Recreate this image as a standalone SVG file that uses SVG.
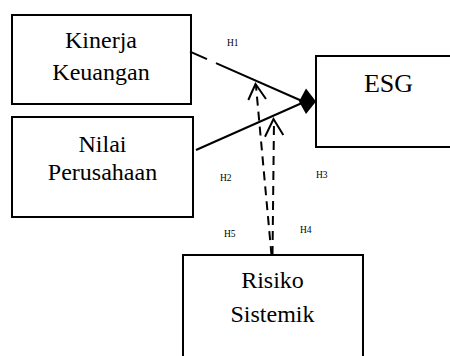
<svg xmlns="http://www.w3.org/2000/svg" width="450" height="356" viewBox="0 0 450 356">
  <style>
    .box { fill: #ffffff; stroke: #000000; stroke-width: 2; }
    text { font-family: 'Liberation Serif', 'Times New Roman', serif; fill: #000000; }
    .label { font-size: 24px; text-anchor: middle; }
    .big { font-size: 26px; }
    .hyp { font-size: 9.5px; }
    .line { stroke: #000000; stroke-width: 2; fill: none; }
    .dash { stroke: #000000; stroke-width: 2; fill: none; stroke-dasharray: 9 6; }
  </style>

  <rect width="450" height="356" fill="#ffffff"/>

  <g id="kinerja-keuangan">
    <rect class="box" x="12" y="15" width="179" height="89"/>
    <text class="label" x="101" y="48">Kinerja</text>
    <text class="label" x="101" y="80">Keuangan</text>
  </g>

  <g id="nilai-perusahaan">
    <rect class="box" x="12" y="117" width="181" height="100"/>
    <text class="label" x="102.5" y="152">Nilai</text>
    <text class="label" x="102.5" y="180">Perusahaan</text>
  </g>

  <g id="esg">
    <rect class="box" x="316" y="56" width="150" height="91"/>
    <text class="label big" x="388.5" y="92">ESG</text>
  </g>

  <g id="risiko-sistemik">
    <rect class="box" x="183" y="255" width="180" height="120"/>
    <text class="label" x="272.5" y="288">Risiko</text>
    <text class="label" x="272.5" y="322">Sistemik</text>
  </g>

  <g id="connectors">
    <!-- Kinerja Keuangan to ESG -->
    <line class="line" x1="190" y1="51.7" x2="207" y2="59.2"/>
    <line class="line" x1="216" y1="63.2" x2="302" y2="101"/>
    <!-- Nilai Perusahaan to ESG -->
    <line class="line" x1="196" y1="150" x2="302" y2="103"/>
    <!-- diamond head on ESG -->
    <polygon points="299,101.5 306,88.5 316,101.5 306,114" fill="#000000"/>

    <!-- Risiko Sistemik moderating paths -->
    <line class="dash" x1="271.5" y1="255" x2="256" y2="86"/>
    <polyline class="line" points="248.3,100 255.5,84 266,99"/>
    <line class="dash" x1="272.5" y1="255" x2="274" y2="121"/>
    <polyline class="line" points="265,136.7 273.5,119 283.3,135"/>
  </g>

  <g id="hypothesis-labels">
    <text class="hyp" x="227" y="46">H1</text>
    <text class="hyp" x="220" y="181">H2</text>
    <text class="hyp" x="316" y="178">H3</text>
    <text class="hyp" x="300" y="233">H4</text>
    <text class="hyp" x="224" y="237">H5</text>
  </g>
</svg>
